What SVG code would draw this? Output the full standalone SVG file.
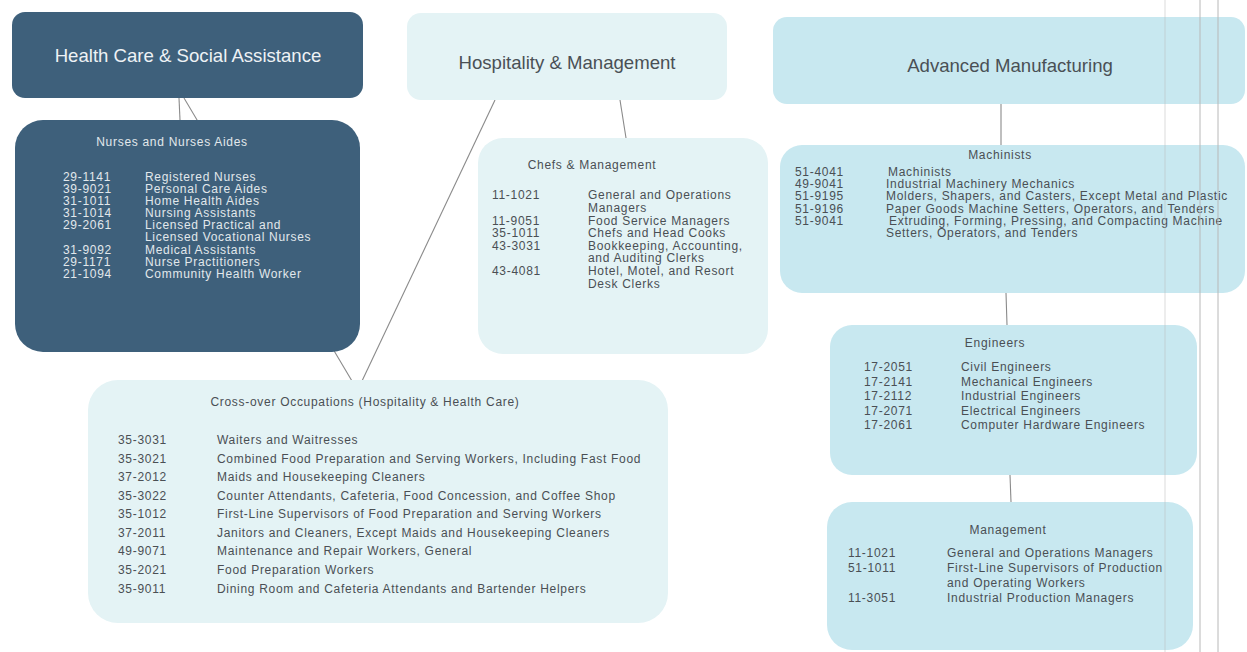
<svg xmlns="http://www.w3.org/2000/svg" width="1247" height="652" viewBox="0 0 1247 652">
<style>
.bg{fill:#ffffff}
.dark{fill:#3e607b}
.pale{fill:#e4f3f5}
.blue{fill:#c8e8f0}
.hdr{font-family:"Liberation Sans",Arial,sans-serif;font-size:18.6px;text-anchor:middle}
.hw{fill:#eef2f5}
.hg{fill:#4a5055}
.t{font-family:"Liberation Sans",Arial,sans-serif;font-size:12px;letter-spacing:0.7px}
.tw{fill:#e2e8ec}
.tg{fill:#4a4f54}
.mid{text-anchor:middle}
.conn line{stroke:#8a8a8a;stroke-width:1.1;fill:none}
.scan line{stroke:#b8b8b8;stroke-width:1}
</style>
<rect class="bg" x="0" y="0" width="1247" height="652"/>

<g id="connectors" class="conn">
  <line x1="179" y1="98" x2="180" y2="120"/>
  <line x1="184" y1="98" x2="352" y2="381"/>
  <line x1="495" y1="100" x2="362" y2="381"/>
  <line x1="620" y1="100" x2="626" y2="138"/>
  <line x1="1001" y1="104" x2="1001" y2="145"/>
  <line x1="1006" y1="293" x2="1007" y2="325"/>
  <line x1="1010" y1="475" x2="1011" y2="502"/>
</g>

<g id="health-care">
  <rect class="dark" x="12" y="12" width="351" height="86" rx="13"/>
  <text class="hdr hw" x="188" y="62">Health Care &amp; Social Assistance</text>
</g>

<g id="hospitality">
  <rect class="pale" x="407" y="13" width="320" height="87" rx="14"/>
  <text class="hdr hg" x="567" y="69">Hospitality &amp; Management</text>
</g>

<g id="advanced-manufacturing">
  <rect class="blue" x="773" y="17" width="472" height="87" rx="14"/>
  <text class="hdr hg" x="1010" y="72">Advanced Manufacturing</text>
</g>

<g id="nurses">
  <rect class="dark" x="15" y="120" width="345" height="232" rx="28"/>
  <text class="t tw mid" x="172" y="146">Nurses and Nurses Aides</text>
  <g class="t tw">
    <text x="63" y="181">29-1141</text><text x="145" y="181">Registered Nurses</text>
    <text x="63" y="193">39-9021</text><text x="145" y="193">Personal Care Aides</text>
    <text x="63" y="205">31-1011</text><text x="145" y="205">Home Health Aides</text>
    <text x="63" y="217">31-1014</text><text x="145" y="217">Nursing Assistants</text>
    <text x="63" y="229">29-2061</text><text x="145" y="229">Licensed Practical and</text>
    <text x="145" y="241">Licensed Vocational Nurses</text>
    <text x="63" y="254">31-9092</text><text x="145" y="254">Medical Assistants</text>
    <text x="63" y="266">29-1171</text><text x="145" y="266">Nurse Practitioners</text>
    <text x="63" y="278">21-1094</text><text x="145" y="278">Community Health Worker</text>
  </g>
</g>

<g id="chefs">
  <rect class="pale" x="478" y="138" width="290" height="216" rx="25"/>
  <text class="t tg mid" x="592" y="169">Chefs &amp; Management</text>
  <g class="t tg">
    <text x="492" y="199">11-1021</text><text x="588" y="199">General and Operations</text>
    <text x="588" y="212">Managers</text>
    <text x="492" y="225">11-9051</text><text x="588" y="225">Food Service Managers</text>
    <text x="492" y="237">35-1011</text><text x="588" y="237">Chefs and Head Cooks</text>
    <text x="492" y="250">43-3031</text><text x="588" y="250">Bookkeeping, Accounting,</text>
    <text x="588" y="262">and Auditing Clerks</text>
    <text x="492" y="275">43-4081</text><text x="588" y="275">Hotel, Motel, and Resort</text>
    <text x="588" y="288">Desk Clerks</text>
  </g>
</g>

<g id="cross-over">
  <rect class="pale" x="88" y="380" width="580" height="243" rx="30"/>
  <text class="t tg mid" x="365" y="406">Cross-over Occupations (Hospitality &amp; Health Care)</text>
  <g class="t tg">
    <text x="118" y="444">35-3031</text><text x="217" y="444">Waiters and Waitresses</text>
    <text x="118" y="463">35-3021</text><text x="217" y="463">Combined Food Preparation and Serving Workers, Including Fast Food</text>
    <text x="118" y="481">37-2012</text><text x="217" y="481">Maids and Housekeeping Cleaners</text>
    <text x="118" y="500">35-3022</text><text x="217" y="500">Counter Attendants, Cafeteria, Food Concession, and Coffee Shop</text>
    <text x="118" y="518">35-1012</text><text x="217" y="518">First-Line Supervisors of Food Preparation and Serving Workers</text>
    <text x="118" y="537">37-2011</text><text x="217" y="537">Janitors and Cleaners, Except Maids and Housekeeping Cleaners</text>
    <text x="118" y="555">49-9071</text><text x="217" y="555">Maintenance and Repair Workers, General</text>
    <text x="118" y="574">35-2021</text><text x="217" y="574">Food Preparation Workers</text>
    <text x="118" y="593">35-9011</text><text x="217" y="593">Dining Room and Cafeteria Attendants and Bartender Helpers</text>
  </g>
</g>

<g id="machinists">
  <rect class="blue" x="780" y="145" width="465" height="148" rx="22"/>
  <text class="t tg mid" x="1000" y="159">Machinists</text>
  <g class="t tg">
    <text x="795" y="176">51-4041</text><text x="888" y="176">Machinists</text>
    <text x="795" y="188">49-9041</text><text x="886" y="188">Industrial Machinery Mechanics</text>
    <text x="795" y="200">51-9195</text><text x="886" y="200">Molders, Shapers, and Casters, Except Metal and Plastic</text>
    <text x="795" y="213">51-9196</text><text x="886" y="213">Paper Goods Machine Setters, Operators, and Tenders</text>
    <text x="795" y="225">51-9041</text><text x="889" y="225">Extruding, Forming, Pressing, and Compacting Machine</text>
    <text x="886" y="237">Setters, Operators, and Tenders</text>
  </g>
</g>

<g id="engineers">
  <rect class="blue" x="830" y="325" width="367" height="150" rx="22"/>
  <text class="t tg mid" x="995" y="347">Engineers</text>
  <g class="t tg">
    <text x="864" y="371">17-2051</text><text x="961" y="371">Civil Engineers</text>
    <text x="864" y="386">17-2141</text><text x="961" y="386">Mechanical Engineers</text>
    <text x="864" y="400">17-2112</text><text x="961" y="400">Industrial Engineers</text>
    <text x="864" y="415">17-2071</text><text x="961" y="415">Electrical Engineers</text>
    <text x="864" y="429">17-2061</text><text x="961" y="429">Computer Hardware Engineers</text>
  </g>
</g>

<g id="management">
  <rect class="blue" x="827" y="502" width="366" height="148" rx="25"/>
  <text class="t tg mid" x="1008" y="534">Management</text>
  <g class="t tg">
    <text x="848" y="557">11-1021</text><text x="947" y="557">General and Operations Managers</text>
    <text x="848" y="572">51-1011</text><text x="947" y="572">First-Line Supervisors of Production</text>
    <text x="947" y="587">and Operating Workers</text>
    <text x="848" y="602">11-3051</text><text x="947" y="602">Industrial Production Managers</text>
  </g>
</g>

<g id="page-edge" class="scan">
  <line x1="1165" y1="0" x2="1165" y2="652" stroke-opacity="0.5"/>
  <line x1="1200" y1="0" x2="1200" y2="652"/>
  <line x1="1218" y1="0" x2="1218" y2="652"/>
</g>
</svg>
